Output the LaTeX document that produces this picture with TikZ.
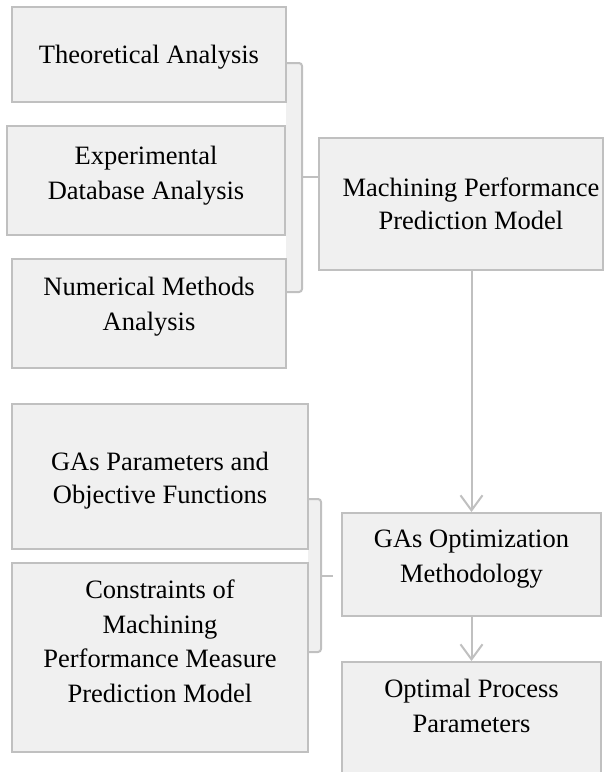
\documentclass[tikz,border=0pt]{standalone}
\usepackage{fontspec}
\setmainfont{Liberation Serif}
\usetikzlibrary{arrows.meta}
\definecolor{boxfill}{HTML}{F0F0F0}
\definecolor{boxline}{HTML}{C0C0C0}
\begin{document}
\begin{tikzpicture}[x=1pt,y=-1pt,
  box/.style={draw=boxline, fill=boxfill, line width=2pt, rectangle, inner sep=0pt},
  txt/.style={inner sep=0pt, align=center, anchor=north, font=\fontsize{26.5}{34.5}\selectfont},
  tighttxt/.style={txt, font=\fontsize{26.5}{33}\selectfont},
  bline/.style={draw=boxline, line width=2pt},
  conn/.style={draw=boxline, line width=2pt, -{Straight Barb[length=15pt,width=22pt]}}]
\clip (0,0) rectangle (613,772);
\fill[white] (0,0) rectangle (613,772);
% bracket fills
\fill[boxfill] (286,63) rectangle (302,292);
\fill[boxfill] (308,499) rectangle (321,652);
% boxes
\node[box, minimum width=274pt, minimum height=95pt]  (theo)  at (149,54.5) {};
\node[box, minimum width=278pt, minimum height=109pt] (expe)  at (146,180.5) {};
\node[box, minimum width=274pt, minimum height=109pt] (nume)  at (149,313.5) {};
\node[box, minimum width=284pt, minimum height=132pt] (mach)  at (461,204) {};
\node[box, minimum width=296pt, minimum height=145pt] (gapar) at (160,476.5) {};
\node[box, minimum width=296pt, minimum height=189pt] (cons)  at (160,657.5) {};
\node[box, minimum width=259pt, minimum height=103pt] (gaopt) at (471.5,564.5) {};
\node[box, minimum width=259pt, minimum height=138pt] (opt)   at (471.5,731) {};
% texts
\node[txt] (theo-t)  at (149,45)  {Theoretical Analysis};
\node[txt] (expe-t)  at (146,146) {Experimental\\Database Analysis};
\node[txt] (nume-t)  at (149,277) {Numerical Methods\\Analysis};
\node[tighttxt] (mach-t)  at (471,178) {Machining Performance\\Prediction Model};
\node[tighttxt] (gapar-t) at (160,452) {GAs Parameters and\\Objective Functions};
\node[txt] (cons-t)  at (160,580) {Constraints of\\Machining\\Performance Measure\\Prediction Model};
\node[txt] (gaopt-t) at (471.5,530) {GAs Optimization\\Methodology};
\node[txt] (opt-t)   at (471.5,679) {Optimal Process\\Parameters};
% bracket 1
\coordinate (b1t) at (302,63);
\coordinate (b1b) at (302,292);
\coordinate (b1m) at (302,177);
\draw[bline, rounded corners=3pt] (b1t -| theo.east) -- (b1t) -- (b1b) -- (b1b -| nume.east);
\draw[bline] (b1m) -- (b1m -| mach.west);
% bracket 2
\coordinate (b2t) at (321,499);
\coordinate (b2b) at (321,652);
\coordinate (b2m) at (321,576);
\coordinate (b2e) at (333,576);
\draw[bline, rounded corners=3pt] (b2t -| gapar.east) -- (b2t) -- (b2b) -- (b2b -| cons.east);
\draw[bline] (b2m) -- (b2e);
% arrows
\draw[conn] (mach.south -| gaopt.north) -- (gaopt.north);
\draw[conn] (gaopt.south) -- (opt.north);
\end{tikzpicture}
\end{document}
